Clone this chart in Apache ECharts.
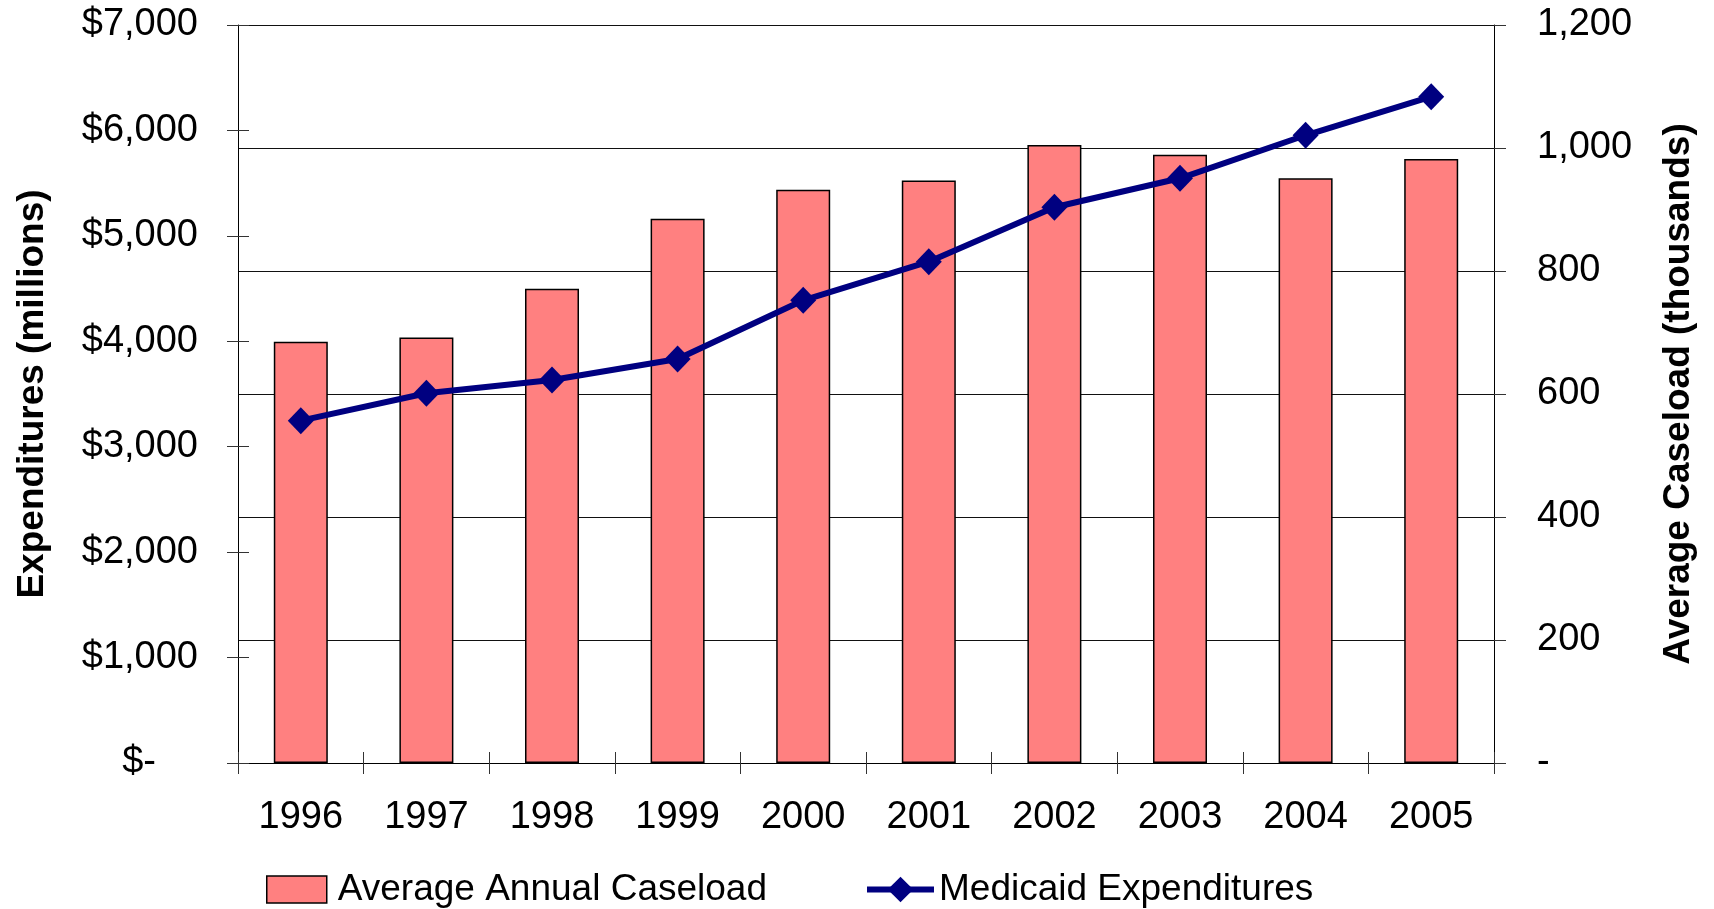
<!DOCTYPE html>
<html>
<head>
<meta charset="utf-8">
<script src="https://cdn.jsdelivr.net/npm/echarts@6/dist/echarts.min.js"></script>
<style>
  html, body { margin: 0; padding: 0; background: #fff; }
  #chart { width: 1714px; height: 909px; }
</style>
</head>
<body>
<div id="chart"></div>
<script>
// Medicaid expenditures vs. average annual caseload, 1996-2005
const years = ['1996', '1997', '1998', '1999', '2000', '2001', '2002', '2003', '2004', '2005'];
const caseloadThousands = [685, 692, 771, 885, 932, 947, 1005, 989, 951, 982];
const expendituresMillions = [3247, 3507, 3633, 3832, 4389, 4755, 5271, 5546, 5954, 6320];
const seriesNames = ['Average Annual Caseload', 'Medicaid Expenditures'];
const axisTitles = ['Expenditures (millions)', 'Average Caseload (thousands)'];

const FONT = 'Liberation Sans, Arial, sans-serif';
const FS_TICK = 38;
const FS_TEXT = 37;
const BAR_COLOR = '#FF8080';
const LINE_COLOR = '#000080';

function fmtDollars(v) {
  if (v === 0) return '{z|$-}';
  return '$' + v.toLocaleString('en-US');
}
function fmtCount(v) {
  if (v === 0) return '-';
  return v.toLocaleString('en-US');
}

const grid = { left: 238, right: 220, top: 25, bottom: 146 };
const labelStyle = { color: '#000', fontFamily: FONT, fontSize: FS_TICK };

const chart = echarts.init(document.getElementById('chart'), null, { renderer: 'canvas' });
chart.setOption({
  backgroundColor: '#fff',
  animation: false,
  grid: grid,
  legend: [
    {
      data: [{ name: seriesNames[0], icon: 'rect' }],
      left: 266, top: 871,
      padding: 0,
      itemWidth: 60, itemHeight: 27,
      itemGap: 0,
      itemStyle: { borderColor: '#000', borderWidth: 1.5 },
      textStyle: { color: '#000', fontFamily: FONT, fontSize: FS_TEXT, padding: [0, 0, 0, 6] }
    },
    {
      data: [seriesNames[1]],
      left: 864, top: 871,
      padding: 0,
      itemWidth: 67, itemHeight: 32,
      itemGap: 0,
      lineStyle: { width: 6, color: LINE_COLOR },
      textStyle: { color: '#000', fontFamily: FONT, fontSize: FS_TEXT, padding: [0, 0, 0, 0] }
    }
  ],
  xAxis: [
    {
      type: 'category',
      data: years,
      position: 'bottom',
      boundaryGap: true,
      axisLine: { show: true, lineStyle: { color: '#000', width: 1 } },
      axisTick: { show: true, length: 11, alignWithLabel: false, lineStyle: { color: '#333', width: 1 } },
      axisLabel: Object.assign({ margin: 36 }, labelStyle),
      splitLine: { show: false }
    },
    {
      type: 'category',
      data: years,
      position: 'bottom',
      boundaryGap: true,
      axisLine: { show: false },
      axisTick: { show: true, inside: true, length: 11, alignWithLabel: false, lineStyle: { color: '#333', width: 1 } },
      axisLabel: { show: false },
      splitLine: { show: false }
    }
  ],
  yAxis: [
    {
      type: 'value',
      position: 'left',
      min: 0, max: 7000, interval: 1000,
      name: axisTitles[0],
      nameLocation: 'middle',
      nameGap: 187,
      nameRotate: 90,
      nameTextStyle: { color: '#000', fontFamily: FONT, fontSize: FS_TEXT, fontWeight: 'bold' },
      axisLine: { show: true, lineStyle: { color: '#000', width: 1 } },
      axisTick: { show: true, length: 11, lineStyle: { color: '#333', width: 1 } },
      axisLabel: Object.assign({
        margin: 40,
        formatter: fmtDollars,
        rich: { z: { color: '#000', fontFamily: FONT, fontSize: FS_TICK, padding: [0, 42, 0, 0] } }
      }, labelStyle),
      splitLine: { show: false }
    },
    {
      type: 'value',
      position: 'right',
      min: 0, max: 1200, interval: 200,
      name: axisTitles[1],
      nameLocation: 'middle',
      nameGap: 166,
      nameRotate: 90,
      nameTextStyle: { color: '#000', fontFamily: FONT, fontSize: FS_TEXT, fontWeight: 'bold' },
      axisLine: { show: true, lineStyle: { color: '#000', width: 1 } },
      axisTick: { show: true, length: 12, lineStyle: { color: '#333', width: 1 } },
      axisLabel: Object.assign({ margin: 43, formatter: fmtCount }, labelStyle),
      splitLine: { show: true, lineStyle: { color: '#111', width: 1 } }
    },
    {
      type: 'value',
      position: 'left',
      min: 0, max: 7000, interval: 1000,
      axisLine: { show: false },
      axisTick: { show: true, inside: true, length: 11, lineStyle: { color: '#333', width: 1 } },
      axisLabel: { show: false },
      splitLine: { show: false }
    }
  ],
  series: [
    {
      name: seriesNames[0],
      type: 'bar',
      xAxisIndex: 0,
      yAxisIndex: 1,
      data: caseloadThousands,
      barWidth: 54,
      itemStyle: { color: BAR_COLOR, borderColor: '#000', borderWidth: 1.5 },
      z: 2
    },
    {
      name: seriesNames[1],
      type: 'line',
      xAxisIndex: 0,
      yAxisIndex: 0,
      data: expendituresMillions,
      symbol: 'diamond',
      symbolSize: [26, 27],
      showSymbol: true,
      lineStyle: { color: LINE_COLOR, width: 6 },
      itemStyle: { color: LINE_COLOR },
      z: 3
    }
  ]
});
</script>
</body>
</html>
